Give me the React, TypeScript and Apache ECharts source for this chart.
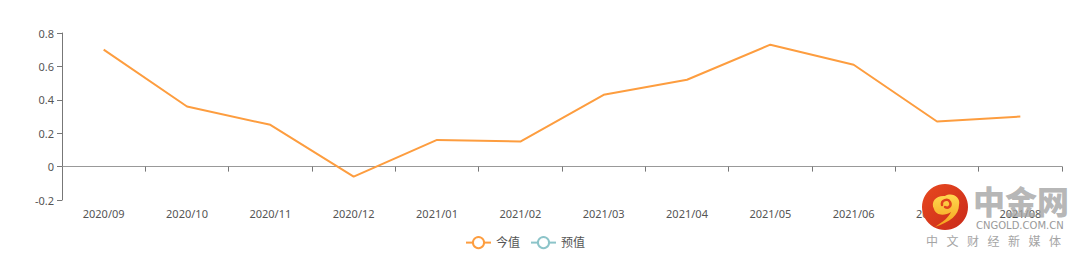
import React, { useEffect, useRef } from "react";
import * as echarts from "echarts";

const categories = ["2020/09", "2020/10", "2020/11", "2020/12", "2021/01", "2021/02", "2021/03", "2021/04", "2021/05", "2021/06", "2021/07", "2021/08"];
const actualValues = [0.7, 0.36, 0.25, -0.06, 0.16, 0.15, 0.43, 0.52, 0.73, 0.61, 0.27, 0.3];
const forecastValues: (number | null)[] = [];
const seriesNames = ["今值", "预值"];
const sloganChars = ["中", "文", "财", "经", "新", "媒", "体"];

const swirlPath =
  "M 12 25 C 8 17 15 11 23 12 C 30 8 39 13 37 21 C 37 31 28 38 13 43 C 22 37 27 33 29 28 C 23 32 14 32 12 25 Z";
const spiralPath = "M 20 21 C 19 16 26 14 28 18 C 30 22 26 25 23 23";

let registered = false;
function registerShapes() {
  if (registered) return;
  registered = true;
  echarts.graphic.registerShape("swirl", echarts.graphic.extendPath(swirlPath, {}) as any);
  echarts.graphic.registerShape("spiral", echarts.graphic.extendPath(spiralPath, {}) as any);
}

export default function App() {
  const ref = useRef<HTMLDivElement>(null);
  useEffect(() => {
    document.body.style.margin = "0";
    registerShapes();
    const chart = echarts.init(ref.current!, undefined, { renderer: "svg" });
    const font = "'Noto Sans', 'Noto Sans CJK SC', sans-serif";
    chart.setOption({
      animation: false,
      textStyle: { fontFamily: font },
      grid: { left: 62, right: 18, top: 33, bottom: 58, containLabel: false },
      legend: {
        left: 460,
        top: 231,
        itemWidth: 25,
        itemHeight: 14,
        itemGap: 10,
        textStyle: { color: "#555", fontSize: 12, fontFamily: font },
        data: seriesNames,
      },
      xAxis: {
        type: "category",
        data: categories,
        boundaryGap: true,
        axisLine: { onZero: true, lineStyle: { color: "#999", width: 1 } },
        axisTick: { show: true, lineStyle: { color: "#777" } },
        axisLabel: { margin: 8, color: "#555", fontSize: 11, fontFamily: font },
        splitLine: { show: false },
      },
      yAxis: {
        type: "value",
        min: -0.2,
        max: 0.8,
        interval: 0.2,
        axisLine: { show: true, lineStyle: { color: "#777" } },
        axisTick: { show: true, lineStyle: { color: "#777" } },
        axisLabel: { color: "#555", fontSize: 11, fontFamily: font },
        splitLine: { show: false },
      },
      series: [
        {
          name: seriesNames[0],
          type: "line",
          data: actualValues,
          symbol: "emptyCircle",
          symbolSize: 8,
          showSymbol: false,
          color: "#fd9d3f",
          lineStyle: { width: 2, color: "#fd9d3f" },
          z: 3,
        },
        {
          name: seriesNames[1],
          type: "line",
          data: forecastValues,
          symbol: "emptyCircle",
          symbolSize: 8,
          showSymbol: false,
          color: "#8cc4c9",
          lineStyle: { width: 2, color: "#8cc4c9" },
        },
      ],
      graphic: [
        {
          type: "group",
          z: 100,
          silent: true,
          children: [
            {
              type: "circle",
              z: 100,
              shape: { cx: 945, cy: 207, r: 23 },
              style: {
                fill: new echarts.graphic.LinearGradient(0, 0, 1, 1, [
                  { offset: 0, color: "#e8491f" },
                  { offset: 1, color: "#c92a1a" },
                ]),
              },
            },
            {
              type: "swirl",
              z: 101,
              x: 922,
              y: 184,
              style: {
                fill: new echarts.graphic.LinearGradient(0, 0, 0, 1, [
                  { offset: 0, color: "#ffd84f" },
                  { offset: 1, color: "#f5a11c" },
                ]),
              },
            },
            {
              type: "spiral",
              z: 102,
              x: 922,
              y: 184,
              style: { fill: null, stroke: "#e0441d", lineWidth: 2.5, lineCap: "round" },
            },
            {
              type: "text",
              z: 100,
              x: 973,
              y: 184,
              style: {
                text: "中金网",
                fill: "#a3a3a3",
                opacity: 0.8,
                font: "900 32px 'Noto Sans CJK SC', sans-serif",
              },
            },
            {
              type: "text",
              z: 100,
              x: 976,
              y: 220,
              style: {
                text: "CNGOLD.COM.CN",
                fill: "#9a9a9a",
                font: "10px 'DejaVu Sans', sans-serif",
              },
            },
            ...sloganChars.map((c, i) => ({
              type: "text",
              z: 100,
              x: 926 + i * 20.5,
              y: 234,
              style: {
                text: c,
                fill: "#a5a5a5",
                font: "12px 'Noto Sans CJK SC', sans-serif",
              },
            })),
          ],
        },
      ],
    });
    return () => chart.dispose();
  }, []);
  return <div ref={ref} style={{ width: 1080, height: 258 }} />;
}
